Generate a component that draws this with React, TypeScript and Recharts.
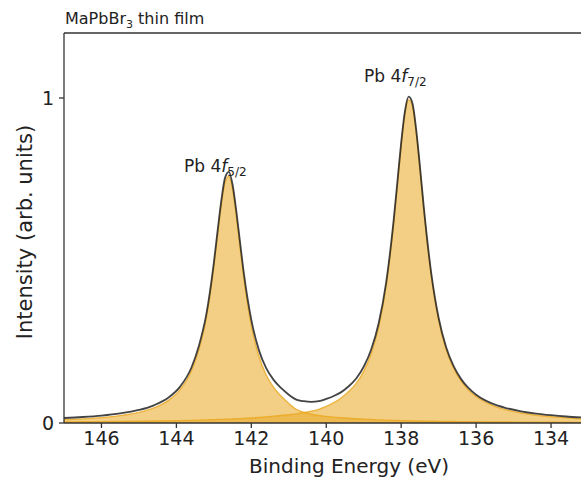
import { ComposedChart, Area, Line, XAxis, YAxis, ReferenceLine } from "recharts";

// binding energy grid (eV)
const energy = [
  147.0, 146.5, 146.0, 145.5, 145.0, 144.6, 144.2, 143.9, 143.6, 143.4,
  143.2, 143.0, 142.9, 142.8, 142.7, 142.6, 142.5, 142.4, 142.3, 142.2,
  142.0, 141.8, 141.6, 141.4, 141.2, 141.0, 140.8, 140.6, 140.4, 140.2,
  140.0, 139.8, 139.6, 139.4, 139.2, 139.0, 138.8, 138.6, 138.4, 138.2,
  138.1, 138.0, 137.9, 137.8, 137.7, 137.6, 137.5, 137.4, 137.2, 137.0,
  136.8, 136.6, 136.4, 136.2, 136.0, 135.6, 135.2, 134.8, 134.4, 134.0,
  133.6, 133.2,
];

// Pb 4f5/2 component
const pb4f52 = [
  0.01, 0.0127, 0.0166, 0.0227, 0.0327, 0.0464, 0.0705, 0.1026, 0.16, 0.226,
  0.323, 0.481, 0.578, 0.672, 0.741, 0.759, 0.718, 0.636, 0.539, 0.445,
  0.299, 0.206, 0.147, 0.109, 0.082, 0.06, 0.042, 0.033, 0.027, 0.023,
  0.0205, 0.018, 0.0162, 0.0147, 0.013, 0.0118, 0.0106, 0.0096, 0.0088, 0.008,
  0.0077, 0.0074, 0.0071, 0.0068, 0.0066, 0.0063, 0.0061, 0.0059, 0.0055, 0.0051,
  0.0048, 0.0045, 0.0042, 0.004, 0.0038, 0.0034, 0.0031, 0.0028, 0.0026, 0.0024,
  0.0022, 0.002,
];

// Pb 4f7/2 component
const pb4f72 = [
  0.0033, 0.0037, 0.0041, 0.0047, 0.0054, 0.006, 0.0068, 0.0074, 0.0082, 0.0088,
  0.0095, 0.0102, 0.0106, 0.011, 0.0115, 0.0119, 0.0125, 0.013, 0.0136, 0.0142,
  0.0155, 0.0171, 0.0189, 0.021, 0.0232, 0.0255, 0.028, 0.032, 0.036, 0.042,
  0.051, 0.0625, 0.077, 0.0967, 0.122, 0.159, 0.213, 0.295, 0.422, 0.614,
  0.733, 0.853, 0.95, 0.995, 0.975, 0.895, 0.782, 0.66, 0.455, 0.316,
  0.226, 0.168, 0.129, 0.101, 0.0814, 0.0558, 0.0405, 0.0307, 0.024, 0.0193,
  0.0158, 0.0132,
];

// measured envelope
const envelope = [
  0.0153, 0.0184, 0.0227, 0.0294, 0.0401, 0.0544, 0.0793, 0.112, 0.17, 0.237,
  0.335, 0.493, 0.591, 0.685, 0.755, 0.773, 0.733, 0.651, 0.555, 0.461,
  0.317, 0.225, 0.168, 0.132, 0.107, 0.087, 0.072, 0.067, 0.065, 0.067,
  0.074, 0.083, 0.095, 0.113, 0.137, 0.173, 0.226, 0.307, 0.433, 0.624,
  0.743, 0.862, 0.959, 1.004, 0.984, 0.903, 0.79, 0.668, 0.463, 0.323,
  0.233, 0.175, 0.135, 0.107, 0.087, 0.061, 0.046, 0.036, 0.029, 0.024,
  0.02, 0.017,
];

const xTicks = [146, 144, 142, 140, 138, 136, 134];
const yTicks = [0, 1];

const FONT = "'DejaVu Sans', sans-serif";
const GOLD = "#e9a820";
const INK = "#222";

export default function App() {
  const data = energy.map((e, i) => ({
    e,
    a: pb4f52[i],
    b: pb4f72[i],
    env: envelope[i],
  }));

  return (
    <div
      style={{
        position: "absolute",
        left: 0,
        top: 0,
        width: 581,
        height: 479,
        overflow: "hidden",
        background: "#fff",
      }}
    >
      <ComposedChart
        width={581}
        height={479}
        data={data}
        margin={{ top: 33, right: 0, bottom: 0, left: 0 }}
      >
        <XAxis
          dataKey="e"
          type="number"
          domain={[133.2, 147]}
          reversed
          allowDataOverflow
          ticks={xTicks}
          interval={0}
          height={56}
          tickSize={5}
          tickMargin={4}
          stroke="#333"
          strokeWidth={1.3}
          tick={{ fontSize: 19, fill: INK, fontFamily: FONT }}
        />
        <YAxis
          type="number"
          domain={[0, 1.2]}
          allowDataOverflow
          ticks={yTicks}
          width={64}
          tickSize={5}
          tickMargin={5}
          stroke="#333"
          strokeWidth={1.3}
          tick={{ fontSize: 19, fill: INK, fontFamily: FONT }}
        />
        <Area
          dataKey="a"
          type="monotone"
          fill={GOLD}
          fillOpacity={0.55}
          stroke={GOLD}
          strokeOpacity={0.8}
          strokeWidth={1.4}
          dot={false}
          activeDot={false}
          isAnimationActive={false}
        />
        <Area
          dataKey="b"
          type="monotone"
          fill={GOLD}
          fillOpacity={0.55}
          stroke={GOLD}
          strokeOpacity={0.8}
          strokeWidth={1.4}
          dot={false}
          activeDot={false}
          isAnimationActive={false}
        />
        <Line
          dataKey="env"
          type="monotone"
          stroke={INK}
          strokeOpacity={0.85}
          strokeWidth={1.8}
          dot={false}
          activeDot={false}
          isAnimationActive={false}
        />
        <ReferenceLine y={1.2} stroke="#333" strokeWidth={1.3} />
      </ComposedChart>

      <svg
        width={581}
        height={479}
        style={{ position: "absolute", left: 0, top: 0, pointerEvents: "none" }}
        fontFamily={FONT}
        fill={INK}
      >
        <text x={65} y={24} fontSize={16}>
          MaPbBr
          <tspan fontSize={11} dy={4}>3</tspan>
          <tspan dy={-4}> thin film</tspan>
        </text>
        <text x={184} y={172} fontSize={17}>
          Pb 4<tspan fontStyle="italic">f</tspan>
          <tspan fontSize={12} dy={4}>5/2</tspan>
        </text>
        <text x={364} y={82} fontSize={17}>
          Pb 4<tspan fontStyle="italic">f</tspan>
          <tspan fontSize={12} dy={4}>7/2</tspan>
        </text>
        <text
          x={25}
          y={232}
          fontSize={21}
          textAnchor="middle"
          dominantBaseline="central"
          transform="rotate(-90 25 232)"
        >
          Intensity (arb. units)
        </text>
        <text x={349} y={473} fontSize={20} textAnchor="middle">
          Binding Energy (eV)
        </text>
      </svg>
    </div>
  );
}
